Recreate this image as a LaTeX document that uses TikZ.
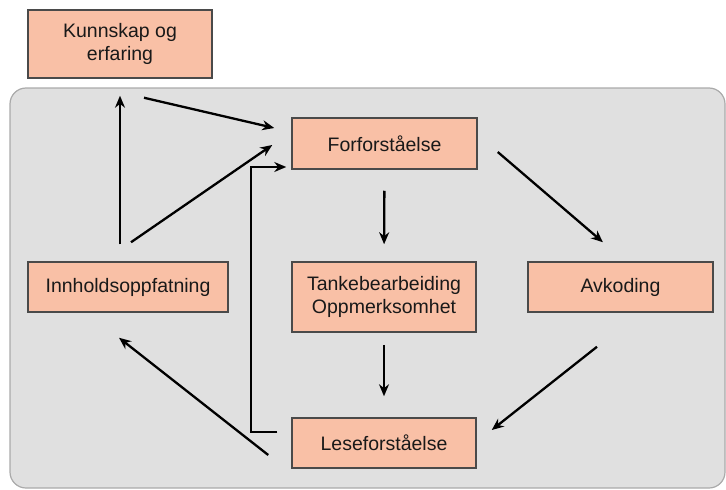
\documentclass[tikz,border=0pt]{standalone}
\usepackage{fontspec}
\setmainfont{Liberation Sans}
\usetikzlibrary{arrows.meta}
\definecolor{boxfill}{HTML}{F9C0A6}
\definecolor{boxline}{HTML}{4A4A4A}
\definecolor{panelfill}{HTML}{E0E0E0}
\definecolor{panelline}{HTML}{AAAAAA}
\tikzset{
  box/.style={draw=boxline, fill=boxfill, line width=1.5pt, rectangle, inner sep=0pt,
    align=center, font=\fontsize{19.5}{23}\selectfont, text=black!90},
  arr/.style={-{Stealth[length=12pt,width=10pt]}, line width=2.3pt, black}
}
\begin{document}
\begin{tikzpicture}[x=1pt,y=-1pt]
\useasboundingbox (0,0) rectangle (726,490);
\draw[panelline, fill=panelfill, line width=1.2pt, rounded corners=16pt] (10,88) rectangle (725,488);

\node[box, minimum width=184pt, minimum height=68pt] (kunn) at (120,44) {Kunnskap og\\erfaring};
\node[box, minimum width=185pt, minimum height=51pt] (for) at (384.5,143.5) {Forforståelse};
\node[box, minimum width=200pt, minimum height=50pt] (innh) at (128,287) {Innholdsoppfatning};
\node[box, minimum width=184pt, minimum height=70pt] (tanke) at (384,297) {Tankebearbeiding\\Oppmerksomhet};
\node[box, minimum width=185pt, minimum height=50pt] (avk) at (620.5,287) {Avkoding};
\node[box, minimum width=184pt, minimum height=50pt] (lese) at (384,443) {Leseforståelse};

\draw[arr, shorten <=17pt, shorten >=17pt] (innh.north -| kunn.south) -- (kunn.south);
\draw[arr] ([shift={(24,19)}]kunn.south) -- ([shift={(-17,-15.5)}]for.west);
\draw[arr] ([shift={(3,-19)}]innh.north) -- ([shift={(-19,1.5)}]for.west);
\draw[arr] ([shift={(-14,-11)}]lese.west) -- ++(-26,0) |- ([shift={(-5,23.5)}]for.west);
\draw[arr, shorten <=21pt, shorten >=17pt] (for.south) -- (tanke.north);
\draw[arr, shorten <=12pt, shorten >=21pt] (tanke.south) -- (lese.north);
\draw[arr] ([shift={(20,8.5)}]for.east) -- ([shift={(-17.5,-19)}]avk.north);
\draw[arr] ([shift={(-23.5,34)}]avk.south) -- ([shift={(15,-13)}]lese.east);
\draw[arr] ([shift={(-23,12)}]lese.west) -- ([shift={(-9,25)}]innh.south);
\end{tikzpicture}
\end{document}
